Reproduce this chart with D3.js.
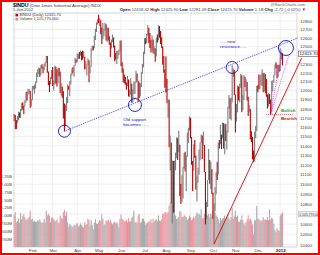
<!DOCTYPE html>
<html>
<head>
<meta charset="utf-8">
<script src="https://cdn.jsdelivr.net/npm/d3@7"></script>
<style>
  body { margin: 0; background: #fff; }
  svg { display: block; font-family: "Liberation Sans", Arial, sans-serif; }
</style>
</head>
<body>
<div id="chart"></div>
<script>
// $INDU daily bars, 6-Jan-2011 .. 5-Jan-2012
const closes = [
  11697.31, 11674.76, 11637.45, 11671.88, 11755.44, 11731.90, 11787.38, 11837.93, 11825.29, 11822.80, 11871.84, 11980.52, 11977.19, 11985.44, 11989.83, 11823.70, 11891.93,
  12040.16, 12041.97, 12062.26, 12092.15, 12161.63, 12233.15, 12239.89, 12229.29, 12273.26, 12268.19, 12226.64, 12288.17, 12318.14, 12391.25, 12212.79, 12105.78, 12068.50, 12130.45, 12226.34,
  12058.02, 12066.80, 12258.20, 12169.88, 12090.03, 12214.38, 12213.09, 11984.61, 12044.40, 11993.16, 11855.42, 11613.30, 11774.59, 11858.52, 12036.53, 12018.63, 12086.02, 12170.56, 12220.59, 12197.88, 12279.01, 12350.61, 12319.73,
  12376.72, 12400.03, 12393.90, 12426.75, 12409.49, 12380.05, 12381.11, 12263.58, 12270.99, 12285.15, 12341.83, 12201.59, 12266.75, 12453.54, 12505.99, 12479.88, 12595.37, 12690.96, 12763.31, 12810.54,
  12807.36, 12807.51, 12723.58, 12584.17, 12638.74, 12684.68, 12760.36, 12630.03, 12695.92, 12595.75, 12548.37, 12479.58, 12560.18, 12605.32, 12512.04, 12381.26, 12356.21, 12394.66, 12402.76, 12441.58, 12569.79,
  12290.14, 12248.55, 12151.26, 12089.96, 12070.81, 12048.94, 12124.36, 11951.91, 11952.97, 12076.11, 11897.27, 11961.52, 12004.36, 12080.38, 12190.01, 12109.67, 12050.00, 11934.58, 12043.56, 12188.69, 12261.42, 12414.34,
  12582.77, 12569.87, 12626.02, 12719.49, 12657.20, 12505.76, 12446.88, 12491.61, 12437.12, 12479.73, 12385.16, 12587.42, 12571.91, 12724.41, 12681.16, 12592.80, 12501.30, 12302.55, 12240.11, 12143.24,
  12132.49, 11866.62, 11896.44, 11383.68, 11444.61, 10809.85, 11239.77, 10719.94, 11143.31, 11269.02, 11482.90, 11405.93, 11410.21, 10990.58, 10817.65, 10854.65, 11176.76, 11320.71, 11149.82, 11284.54, 11539.25, 11559.95, 11613.53,
  11493.57, 11240.26, 11139.30, 11414.86, 11295.81, 10992.13, 11061.12, 11105.85, 11246.73, 11433.18, 11509.09, 11401.01, 11408.66, 11124.84, 10733.83, 10771.48, 11043.86, 11190.69, 11010.90, 11153.98, 10913.38,
  10655.30, 10808.71, 10939.95, 11123.33, 11103.12, 11433.18, 11416.30, 11518.85, 11478.13, 11644.49, 11397.00, 11577.05, 11504.62, 11541.78, 11808.79, 11913.62, 11706.62, 11869.04, 12208.55, 12231.11, 11955.01,
  11657.96, 11836.04, 12044.47, 11983.24, 12068.39, 12170.18, 11780.94, 11893.79, 12153.68, 12078.98, 12096.16, 11905.59, 11770.73, 11796.16, 11547.31, 11493.72, 11257.55, 11231.78, 11523.01, 11555.63, 12045.68,
  12020.03, 12019.42, 12097.83, 12150.13, 12196.37, 11997.70, 12184.26, 12021.39, 11954.94, 11823.48, 11868.81, 11866.39, 11766.26, 12103.58, 12107.74, 12169.65, 12294.00, 12291.35, 12151.41, 12287.04, 12217.56,
  12397.38, 12418.42, 12415.70
];
const highs = [
  11742, 11730, 11675, 11720, 11767, 11758, 11795, 11861, 11870, 11830, 11893, 11985, 11985, 12020, 12018, 11995, 11906,
  12054, 12051, 12066, 12100, 12201, 12240, 12260, 12250, 12285, 12297, 12268, 12303, 12322, 12392, 12391, 12213, 12106, 12152, 12231,
  12265, 12112, 12283, 12269, 12236, 12256, 12253, 12213, 12080, 12045, 11993, 11855, 11845, 11926, 12066, 12049, 12106, 12190, 12248, 12262, 12285, 12371, 12354,
  12419, 12418, 12436, 12450, 12440, 12452, 12445, 12381, 12330, 12291, 12366, 12342, 12275, 12480, 12513, 12506, 12625, 12707, 12784, 12820,
  12876, 12832, 12808, 12723, 12776, 12710, 12780, 12760, 12722, 12719, 12620, 12548, 12582, 12640, 12605, 12512, 12425, 12450, 12450, 12465, 12570,
  12570, 12320, 12249, 12180, 12150, 12090, 12164, 12124, 12007, 12138, 12076, 12010, 12100, 12100, 12223, 12191, 12109, 12090, 12081, 12205, 12300, 12440,
  12597, 12600, 12647, 12753, 12719, 12657, 12579, 12630, 12583, 12500, 12480, 12605, 12640, 12751, 12740, 12681, 12608, 12501, 12390, 12240,
  12385, 12132, 11904, 11896, 11510, 11433, 11244, 11239, 11244, 11327, 11490, 11483, 11560, 11410, 11003, 11091, 11180, 11323, 11337, 11300, 11540, 11591, 11716,
  11700, 11494, 11240, 11416, 11460, 11296, 11080, 11170, 11360, 11433, 11520, 11509, 11550, 11409, 11125, 10820, 11044, 11365, 11250, 11230, 11154,
  10913, 10810, 10970, 11124, 11232, 11434, 11460, 11625, 11519, 11650, 11644, 11630, 11635, 11560, 11820, 11950, 11914, 11920, 12284, 12248, 12231,
  11955, 11850, 12055, 12044, 12075, 12186, 12170, 11950, 12172, 12154, 12125, 12096, 11930, 11840, 11796, 11555, 11494, 11350, 11550, 11610, 12050,
  12060, 12180, 12175, 12180, 12240, 12196, 12200, 12184, 12130, 11955, 11970, 11960, 11900, 12110, 12115, 12180, 12294, 12320, 12291, 12290, 12287,
  12480, 12430, 12426
];
const lows = [
  11665, 11577, 11579, 11640, 11672, 11700, 11700, 11776, 11787, 11739, 11822, 11866, 11890, 11955, 11965, 11810, 11824,
  11892, 12012, 11965, 12023, 12089, 12150, 12185, 12150, 12175, 12249, 12195, 12227, 12268, 12312, 12199, 12060, 11983, 12068, 12130,
  12050, 12000, 12068, 12077, 12046, 12077, 12160, 11972, 11942, 11920, 11693, 11555, 11614, 11775, 11859, 12008, 11935, 12068, 12168, 12193, 12155, 12279, 12312,
  12318, 12355, 12360, 12394, 12340, 12350, 12367, 12237, 12245, 12168, 12285, 12093, 12196, 12267, 12454, 12455, 12480, 12575, 12670, 12757,
  12777, 12740, 12646, 12530, 12584, 12620, 12685, 12570, 12550, 12570, 12520, 12380, 12478, 12550, 12488, 12330, 12350, 12300, 12360, 12402, 12442,
  12275, 12200, 12091, 12082, 12063, 12007, 12048, 11934, 11924, 11953, 11863, 11863, 11962, 11960, 12080, 12100, 11874, 11917, 11935, 12040, 12189, 12261,
  12414, 12527, 12540, 12626, 12538, 12484, 12430, 12447, 12420, 12410, 12324, 12385, 12546, 12571, 12603, 12530, 12480, 12290, 12200, 12030,
  11978, 11860, 11700, 11383, 11140, 10804, 10605, 10711, 10720, 11143, 11269, 11250, 11330, 10880, 10800, 10818, 10855, 11160, 11130, 10929, 11285, 11430, 11560,
  11480, 11200, 10932, 11139, 11270, 10946, 10824, 11015, 11100, 11247, 11430, 11260, 11400, 11124, 10597, 10650, 10770, 11044, 11005, 10950, 10900,
  10650, 10404, 10730, 10900, 11043, 11103, 11370, 11416, 11365, 11478, 11370, 11310, 11450, 11360, 11542, 11800, 11690, 11670, 11869, 12150, 11950,
  11540, 11658, 11760, 11890, 11870, 12030, 11760, 11781, 11894, 12040, 11990, 11890, 11720, 11760, 11470, 11440, 11257, 11230, 11232, 11480, 11556,
  11980, 12010, 12019, 12060, 12050, 11980, 11998, 11970, 11930, 11800, 11823, 11850, 11735, 11766, 11990, 12090, 12170, 12250, 12140, 12151, 12210,
  12218, 12350, 12281
];
// volume, millions of shares
const volumes = [
  1000, 1100, 780, 820, 900, 760, 1080, 880, 980, 1050, 940, 850, 870, 910, 960, 1150, 870,
  900, 800, 840, 800, 790, 850, 830, 880, 800, 760, 770, 900, 780, 1150, 1000, 1050, 990, 780, 920,
  950, 880, 820, 830, 870, 780, 750, 1000, 920, 900, 1100, 1180, 990, 1120, 780, 640, 720, 700, 640, 650, 700, 680, 720,
  760, 650, 680, 750, 700, 640, 620, 790, 700, 730, 900, 850, 670, 850, 700, 560, 760, 880, 740, 730,
  780, 850, 830, 1050, 900, 700, 720, 840, 830, 870, 790, 860, 760, 720, 770, 800, 750, 780, 720, 620, 900,
  1030, 880, 880, 810, 820, 860, 780, 910, 800, 820, 920, 960, 1150, 780, 800, 760, 1000, 1050, 760, 800, 900, 900,
  820, 700, 750, 780, 820, 800, 880, 760, 900, 800, 850, 880, 820, 1000, 830, 820, 880, 1050, 1050, 1100,
  1100, 1050, 1100, 1300, 1400, 1400, 1350, 1300, 1150, 1000, 900, 900, 950, 1150, 1100, 950, 950, 1000, 1000, 950, 850, 900, 1000,
  950, 850, 900, 950, 900, 1000, 1100, 1050, 1050, 1000, 1200, 900, 920, 1050, 1350, 1150, 1000, 1050, 950, 1050, 1000,
  1150, 1350, 1100, 1000, 950, 870, 750, 920, 850, 900, 920, 1000, 900, 950, 1050, 900, 850, 950, 1250, 900, 1000,
  1150, 950, 1000, 800, 800, 870, 1000, 850, 750, 700, 780, 880, 1000, 850, 900, 840, 710, 400, 850, 840, 1300,
  900, 880, 850, 800, 850, 950, 860, 880, 850, 950, 850, 1200, 870, 930, 890, 730, 540, 470, 590, 530, 510,
  1000, 1050, 1100
];
const firstPrevClose = 11722.89;

const monthStarts = [17, 36, 59, 79, 100, 122, 142, 165, 186, 207, 228, 249];
const monthLabels = ['Feb', 'Mar', 'Apr', 'May', 'Jun', 'Jul', 'Aug', 'Sep', 'Oct', 'Nov', 'Dec', '2012'];
const priceTicks = [10400, 10500, 10600, 10700, 10800, 10900, 11000, 11100, 11200, 11300, 11400, 11500, 11600,
  11700, 11800, 11900, 12000, 12100, 12200, 12300, 12400, 12500, 12600, 12700, 12800];
const volumeTicks = [250, 500, 750, 1000, 1250, 1500, 1750, 2000, 2250];
const volumeLabels = ['250M', '500M', '750M', '1.00B', '1.25B', '1.50B', '1.75B', '2.00B', '2.25B'];

// annotations, as [trading-day index, price]
const circlePoints = [[47, 11555], [113, 11840], [204, 12260], [254.3, 12483]];
const supportLine = [[47, 11555], [265.5, 12600]];
const uptrendLine = [[187, 10404], [269, 12367]];
const fanLines = [[[240, 11735], [250.5, 12460]], [[240, 11735], [257, 12402]]];
const pivotLine = [[235.6, 11735], [261.8, 11735]];

const W = 320, H = 255;
const plot = { left: 14, right: 297, top: 13, bottom: 247 };
const n = closes.length;

const svg = d3.select('#chart').append('svg')
  .attr('width', W)
  .attr('height', H);

const x = d3.scaleLinear().domain([0, n - 1]).range([14.2, 282.4]);
const y = d3.scaleLog().domain([10400, 12800]).range([244.6, 21]);
const yVol = d3.scaleLinear().domain([0, 2250]).range([plot.bottom, 176]);

const isDown = i => closes[i] < (i === 0 ? firstPrevClose : closes[i - 1]);

// grid
svg.append('g').selectAll('line')
  .data(priceTicks)
  .enter().append('line')
  .attr('x1', plot.left).attr('x2', plot.right)
  .attr('y1', d => y(d)).attr('y2', d => y(d))
  .attr('stroke', '#e6e6e6').attr('stroke-width', 0.6);

svg.append('g').selectAll('line')
  .data(monthStarts)
  .enter().append('line')
  .attr('x1', d => x(d)).attr('x2', d => x(d))
  .attr('y1', plot.top).attr('y2', plot.bottom)
  .attr('stroke', '#e6e6e6').attr('stroke-width', 0.6);

// volume
svg.append('g').selectAll('rect')
  .data(volumes)
  .enter().append('rect')
  .attr('x', (d, i) => x(i) - 0.55)
  .attr('width', 1.1)
  .attr('y', d => yVol(d))
  .attr('height', d => plot.bottom - yVol(d))
  .attr('fill', (d, i) => isDown(i) ? '#ec94a0' : '#aaaaaa');

// price bars
svg.append('g').selectAll('line')
  .data(closes)
  .enter().append('line')
  .attr('x1', (d, i) => x(i)).attr('x2', (d, i) => x(i))
  .attr('y1', (d, i) => y(highs[i]))
  .attr('y2', (d, i) => y(lows[i]))
  .attr('stroke', (d, i) => isDown(i) ? '#b80000' : '#7c7c7c')
  .attr('stroke-width', 1.1);

// frame
svg.append('rect')
  .attr('x', plot.left).attr('y', plot.top)
  .attr('width', plot.right - plot.left).attr('height', plot.bottom - plot.top)
  .attr('fill', 'none').attr('stroke', '#b8b8b8').attr('stroke-width', 0.6);

// last value boxes (labels under them are dropped)
const lastClose = closes[n - 1];
const priceBoxY = y(lastClose);
const volBoxY = yVol(volumes[n - 1]) + 2;
const freeOfBoxes = d => Math.abs(y(d) - priceBoxY) > 4.5 && Math.abs(y(d) - volBoxY) > 4.5;

const axisFont = g => g.selectAll('text').attr('font-size', 4.4).attr('fill', '#444');

svg.append('g')
  .attr('transform', `translate(${plot.right + 1},0)`)
  .call(d3.axisRight(y).tickValues(priceTicks.filter(freeOfBoxes)).tickSize(0).tickPadding(2).tickFormat(d3.format('d')))
  .call(g => g.select('.domain').remove())
  .call(axisFont);

svg.append('g')
  .attr('transform', `translate(${plot.left - 1},0)`)
  .call(d3.axisLeft(yVol).tickValues(volumeTicks).tickSize(0).tickPadding(1).tickFormat((d, i) => volumeLabels[i]))
  .call(g => g.select('.domain').remove())
  .call(axisFont);

svg.append('g')
  .attr('transform', `translate(0,${plot.bottom})`)
  .call(d3.axisBottom(x).tickValues(monthStarts).tickSize(0).tickPadding(1.5).tickFormat((d, i) => monthLabels[i]))
  .call(g => g.select('.domain').remove())
  .call(axisFont)
  .call(g => g.selectAll('text').filter(d => d === 249).attr('font-weight', 'bold').attr('fill', '#222'));

const priceBox = svg.append('g').attr('transform', `translate(${plot.right + 1.5},${priceBoxY})`);
priceBox.append('rect').attr('x', 0).attr('y', -2.8).attr('width', 19.5).attr('height', 5.6)
  .attr('fill', '#fff').attr('stroke', '#333').attr('stroke-width', 0.5);
priceBox.append('text').attr('x', 1).attr('y', 1.6).attr('font-size', 4.4).attr('fill', '#111')
  .text(d3.format('.2f')(lastClose));

const volBox = svg.append('g').attr('transform', `translate(${plot.right + 1.5},${volBoxY})`);
volBox.append('rect').attr('x', 0).attr('y', -2.6).attr('width', 19.5).attr('height', 5.2)
  .attr('fill', '#eee').attr('stroke', '#999').attr('stroke-width', 0.4);
volBox.append('text').attr('x', 0.8).attr('y', 1.3).attr('font-size', 3.4).attr('fill', '#444')
  .text('1,105,770,000');

// header
const header = svg.append('g');
header.append('text').attr('x', 13).attr('y', 6.5).attr('font-size', 5.2).attr('font-weight', 'bold').text('$INDU')
  .append('tspan').attr('font-weight', 'normal').attr('font-size', 4.3).attr('fill', '#333').text(' (Dow Jones Industrial Average) INDX');
header.append('text').attr('x', 13).attr('y', 11.3).attr('font-size', 4).attr('fill', '#333').text('5-Jan-2012');
header.append('text').attr('x', 305).attr('y', 6).attr('font-size', 4).attr('fill', '#555')
  .attr('text-anchor', 'end').text('@StockCharts.com');

const quote = [['Open', '12418.42'], ['High', '12425.90'], ['Low', '12281.09'], ['Close', '12415.70'],
  ['Volume', '1.1B'], ['Chg', '-2.72 (-0.02%)']];
const quoteText = header.append('text').attr('x', 306).attr('y', 11.3).attr('font-size', 4.2)
  .attr('text-anchor', 'end').attr('fill', '#222');
quote.forEach(([k, v]) => {
  quoteText.append('tspan').attr('font-weight', 'bold').text(k + ' ');
  quoteText.append('tspan').attr('fill', '#444').text(v + '  ');
});
quoteText.append('tspan').attr('fill', '#c00').text('▼');

// legend
const legend = svg.append('g').attr('font-size', 3.9).attr('fill', '#333');
legend.append('rect').attr('x', 15.5).attr('y', 13.8).attr('width', 2.6).attr('height', 2.6).attr('fill', '#c00000');
legend.append('text').attr('x', 19.5).attr('y', 16.3).text('$INDU (Daily) 12415.70');
legend.append('rect').attr('x', 15.5).attr('y', 17.8).attr('width', 2.6).attr('height', 2.6).attr('fill', '#999');
legend.append('text').attr('x', 19.5).attr('y', 20.3).text('Volume 1,105,770,000');

// annotations
const pt = d => [x(d[0]), y(d[1])];
const line = d3.line().x(d => x(d[0])).y(d => y(d[1]));
const anno = svg.append('g').attr('fill', 'none');

anno.append('path').attr('d', line(supportLine))
  .attr('stroke', '#1010d0').attr('stroke-width', 0.8).attr('stroke-dasharray', '1,1');
anno.append('path').attr('d', line(uptrendLine))
  .attr('stroke', '#e00000').attr('stroke-width', 0.9);
fanLines.forEach(seg => {
  anno.append('path').attr('d', line(seg))
    .attr('stroke', '#e020e0').attr('stroke-width', 0.7).attr('stroke-dasharray', '1,1');
});
anno.append('path').attr('d', line(pivotLine))
  .attr('stroke', '#c03030').attr('stroke-width', 0.7).attr('stroke-dasharray', '1,1');

const radii = [6, 6.5, 6, 7.5];
anno.selectAll('circle')
  .data(circlePoints)
  .enter().append('circle')
  .attr('cx', d => pt(d)[0]).attr('cy', d => pt(d)[1])
  .attr('r', (d, i) => radii[i])
  .attr('stroke', '#1010d0').attr('stroke-width', 0.9);

const note = (d, lines, color, bold) => {
  const t = svg.append('text').attr('x', x(d[0])).attr('y', y(d[1]))
    .attr('font-size', 4.4).attr('fill', color).attr('font-weight', bold ? 'bold' : 'normal');
  lines.forEach((s, i) => t.append('tspan').attr('x', x(d[0])).attr('dy', i ? 5 : 0).text(s));
};
note([102, 11665], ['Old support', 'becomes......'], '#1010d0');
note([192.6, 12542], ['......new', 'resistance......'], '#1010d0');
note([249.6, 11760], ['Bullish'], '#2c9a2c', true);
note([249.6, 11680], ['Bearish'], '#d01010', true);

// outer border
svg.append('rect').attr('x', 1).attr('y', 1).attr('width', W - 2).attr('height', H - 2)
  .attr('fill', 'none').attr('stroke', '#ff0000').attr('stroke-width', 2);
</script>
</body>
</html>
